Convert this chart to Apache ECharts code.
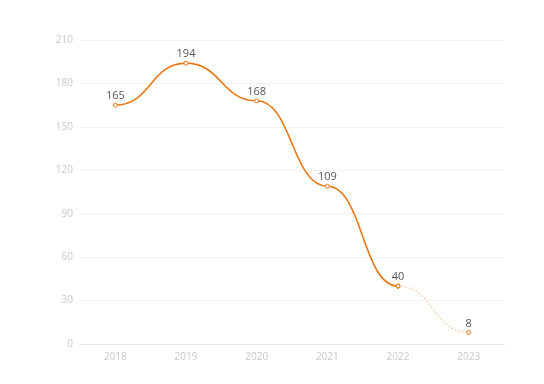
<!DOCTYPE html>
<html><head><meta charset="utf-8">
<script src="https://cdn.jsdelivr.net/npm/echarts@6/dist/echarts.min.js"></script>
<style>html,body{margin:0;padding:0;background:#fff}#c{width:544px;height:384px}</style>
</head><body><div id="c"></div>
<script>
const categories = ['2018','2019','2020','2021','2022','2023'];
const actual = [165, 194, 168, 109, 40, null];
const forecast = [null, null, null, null, 40, 8];
const yTicks = {min: 0, max: 210, interval: 30};

function segments(arr, kind) {
  const out = [];
  for (let i = 0; i < arr.length - 1; i++) {
    if (arr[i] != null && arr[i + 1] != null) out.push([i, arr[i], i + 1, arr[i + 1], kind]);
  }
  return out;
}
const segData = segments(actual, 0).concat(segments(forecast, 1));

const chart = echarts.init(document.getElementById('c'));
const orange = '#ec7512';
chart.setOption({
  animation: false,
  grid: {left: 80, right: 40, top: 40, bottom: 40},
  xAxis: {
    type: 'category', data: categories, boundaryGap: true,
    axisLine: {lineStyle: {color: '#e6e6e6'}},
    axisTick: {show: false},
    axisLabel: {color: '#c8c8c8', fontSize: 10, fontFamily: 'Open Sans', margin: 8}
  },
  yAxis: {
    type: 'value', min: yTicks.min, max: yTicks.max, interval: yTicks.interval,
    axisLine: {show: false}, axisTick: {show: false},
    axisLabel: {color: '#c8c8c8', fontSize: 10, fontFamily: 'Open Sans', margin: 7},
    splitLine: {lineStyle: {color: '#f2f2f2'}}
  },
  series: [
    {
      type: 'custom', data: segData, silent: true, z: 2,
      encode: {x: [0, 2], y: [1, 3]},
      renderItem: function (params, api) {
        const p0 = api.coord([api.value(0), api.value(1)]);
        const p1 = api.coord([api.value(2), api.value(3)]);
        const dashed = api.value(4) === 1;
        const k = 0.5 * (p1[0] - p0[0]);
        return {
          type: 'bezierCurve',
          shape: {x1: p0[0], y1: p0[1], x2: p1[0], y2: p1[1],
                  cpx1: p0[0] + k, cpy1: p0[1], cpx2: p1[0] - k, cpy2: p1[1]},
          style: dashed
            ? {stroke: 'rgba(245,160,90,0.6)', fill: null, lineWidth: 1.4, lineDash: [1.5, 2.2]}
            : {stroke: orange, fill: null, lineWidth: 1.6}
        };
      }
    },
    {
      type: 'line', data: actual, z: 3,
      symbol: 'circle', symbolSize: 4, showAllSymbol: true,
      lineStyle: {opacity: 0},
      itemStyle: {color: '#fff', borderColor: orange, borderWidth: 1},
      label: {show: true, position: 'top', color: '#555', fontSize: 11, fontFamily: 'Open Sans', distance: 1}
    },
    {
      type: 'line', data: forecast, z: 3,
      symbol: 'circle', symbolSize: 4, showAllSymbol: true,
      lineStyle: {opacity: 0},
      itemStyle: {color: '#fff', borderColor: orange, borderWidth: 1},
      label: {show: true, position: 'top', color: '#555', fontSize: 11, fontFamily: 'Open Sans', distance: 1,
        formatter: p => p.dataIndex === 5 ? p.value : ''}
    }
  ]
});
</script></body></html>
